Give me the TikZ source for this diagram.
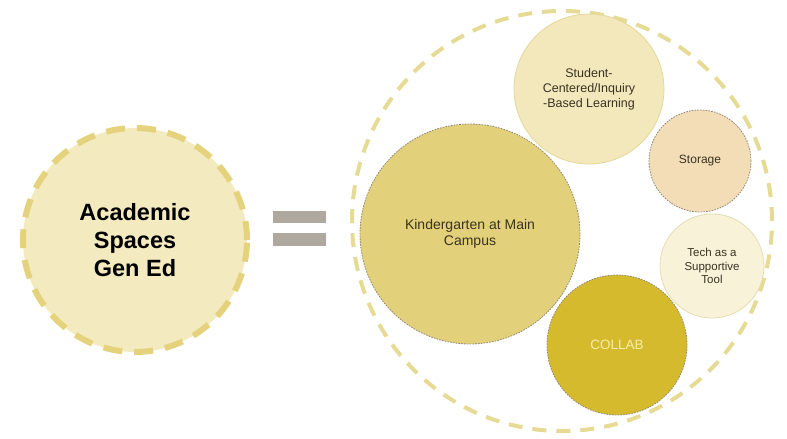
\documentclass[tikz,border=0pt]{standalone}
\usepackage{fontspec}
\setmainfont{Liberation Sans}
\definecolor{genfill}{HTML}{F3EAC0}
\definecolor{gendash}{HTML}{E4D37C}
\definecolor{eqgray}{HTML}{AFA89E}
\definecolor{ringdash}{HTML}{E6DB94}
\definecolor{kinderfill}{HTML}{E3D07A}
\definecolor{studentfill}{HTML}{F2E8BC}
\definecolor{studentline}{HTML}{E3D89A}
\definecolor{storagefill}{HTML}{F2DDB6}
\definecolor{techfill}{HTML}{F8F2D9}
\definecolor{techline}{HTML}{E6DCB0}
\definecolor{collabfill}{HTML}{D5BA2D}
\definecolor{collabtext}{HTML}{F8EDA8}
\definecolor{bubbleline}{HTML}{8E8878}
\definecolor{labeltext}{HTML}{3A3322}
\begin{document}
\begin{tikzpicture}[x=1pt,y=-1pt,
    bubble/.style={circle, inner sep=0pt, align=center, text=labeltext},
    dotrim/.style={draw=bubbleline, line width=0.8pt, dash pattern=on 1.6pt off 1.2pt}]
  \useasboundingbox (0,0) rectangle (787,439);
  % left side
  \node[bubble, minimum size=224pt, fill=genfill, draw=gendash, line width=6pt,
        dash pattern=on 19pt off 12pt, text=black,
        font=\fontsize{23.5}{28}\selectfont\bfseries] (gened) at (135,240)
        {Academic\\Spaces\\Gen Ed};
  % equals sign
  \fill[eqgray] (273,211) rectangle (326,223);
  \fill[eqgray] (273,233) rectangle (326,246);
  % outer ring
  \node[circle, minimum size=420pt, draw=ringdash, line width=4pt,
        dash pattern=on 14pt off 10pt] (ring) at (562,221) {};
  % bubbles inside the ring
  \node[bubble, minimum size=220pt, fill=kinderfill, dotrim,
        font=\fontsize{14}{16}\selectfont] (kinder) at (470,234)
        {Kindergarten at Main\\Campus};
  \node[bubble, minimum size=150pt, fill=studentfill, draw=studentline, line width=0.8pt,
        font=\fontsize{12.5}{15}\selectfont] (student) at (589,89)
        {Student-\\Centered/Inquiry\\-Based Learning};
  \node[bubble, minimum size=102pt, fill=storagefill, dotrim,
        font=\fontsize{12}{14}\selectfont] (storage) at (700,161) {Storage};
  \node[bubble, minimum size=104pt, fill=techfill, draw=techline, line width=0.8pt,
        font=\fontsize{11.5}{13.5}\selectfont] (tech) at (712,266)
        {Tech as a\\Supportive\\Tool};
  \node[bubble, minimum size=140pt, fill=collabfill, dotrim, text=collabtext,
        font=\fontsize{13.5}{16}\selectfont] (collab) at (617,345) {COLLAB};
\end{tikzpicture}
\end{document}
